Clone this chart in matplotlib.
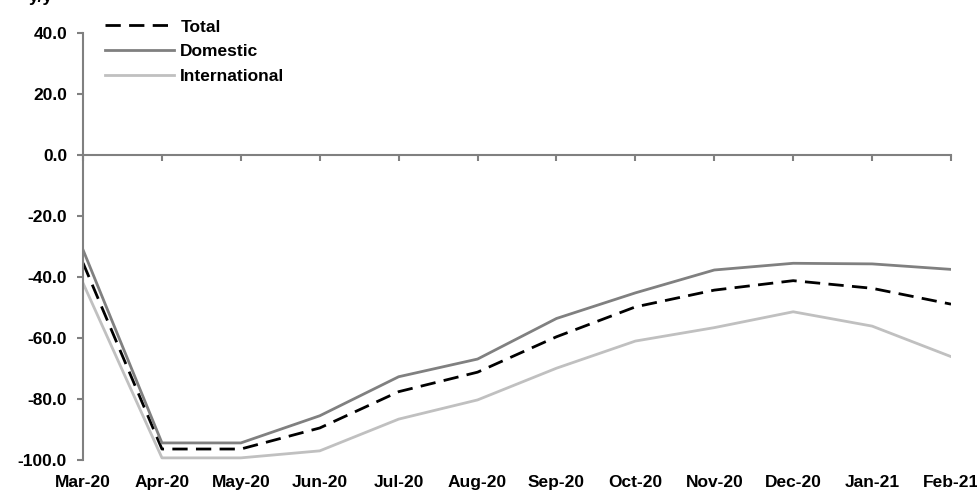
import matplotlib
matplotlib.use("Agg")
import matplotlib.pyplot as plt
import matplotlib.transforms as mtransforms

plt.rcParams['font.family'] = ['Liberation Sans Narrow', 'Liberation Sans', 'DejaVu Sans']
plt.rcParams['font.weight'] = 'bold'

# months along the x axis
months = ["Mar-20", "Apr-20", "May-20", "Jun-20", "Jul-20", "Aug-20",
          "Sep-20", "Oct-20", "Nov-20", "Dec-20", "Jan-21", "Feb-21"]

# y/y change, per cent
total = [-35.4, -96.4, -96.4, -89.5, -77.6, -71.2, -59.6, -49.8, -44.3, -41.2, -43.7, -48.9]
domestic = [-31.1, -94.4, -94.4, -85.5, -72.7, -66.9, -53.6, -45.2, -37.7, -35.5, -35.7, -37.5]
international = [-42.0, -99.3, -99.3, -97.0, -86.6, -80.3, -69.9, -61.0, -56.6, -51.4, -56.1, -66.1]

yticks = [40, 20, 0, -20, -40, -60, -80, -100]

fig = plt.figure(figsize=(9.78, 4.98), dpi=100)
ax = fig.add_axes([0.0849, 0.0763, 0.8875, 0.8574])

x = range(len(months))
ax.plot(x, total, color="black", lw=2.0, dashes=(5.5, 3), label="Total")
ax.plot(x, domestic, color="#808080", lw=2.0, label="Domestic")
ax.plot(x, international, color="#c0c0c0", lw=2.0, label="International")

ax.set_xlim(0, len(months) - 1)
ax.set_ylim(-100, 40)

# axis styling
for s in ["top", "right"]:
    ax.spines[s].set_visible(False)
ax.spines["left"].set_color("#808080")
ax.spines["left"].set_linewidth(1.5)
ax.spines["bottom"].set_position(("data", 0))
ax.spines["bottom"].set_color("#808080")
ax.spines["bottom"].set_linewidth(1.5)

ax.set_yticks(yticks)
ax.set_yticklabels([f"{v:.1f}" for v in yticks], fontsize=12.5, fontweight="bold")
ax.tick_params(axis="y", direction="out", length=4, width=1.5, color="#808080", pad=7.5)

ax.set_xticks(list(x))
ax.set_xticklabels([])
ax.tick_params(axis="x", direction="out", length=4, width=1.5, color="#808080")

# month labels sit below the plot area
trans = mtransforms.blended_transform_factory(ax.transData, ax.transAxes)
for i, m in enumerate(months):
    ax.text(i, -0.035, m, transform=trans, ha="center", va="top",
            fontsize=12.5, fontweight="bold")

leg = ax.legend(loc="upper left", bbox_to_anchor=(0.025, 1.032), frameon=False,
                fontsize=12.5, handlelength=4.0, handletextpad=0.35,
                labelspacing=0.55, borderaxespad=0, borderpad=0)
for t in leg.get_texts():
    t.set_fontweight("bold")

fig.text(0.03, 1.005, "y/y", fontsize=12.5, fontweight="bold", va="center")

fig.savefig("out.png", dpi=100)
